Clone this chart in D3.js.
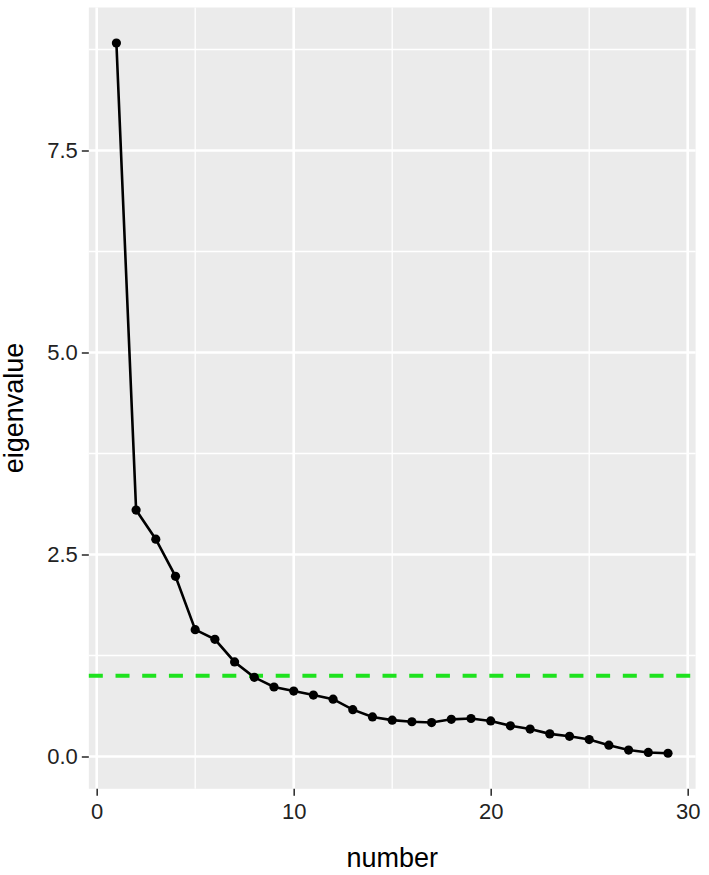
<!DOCTYPE html>
<html>
<head>
<meta charset="utf-8">
<script src="https://cdn.jsdelivr.net/npm/d3@7"></script>
<style>
	body { margin:0; background:#fff; }
	svg { display:block; font-family:"Liberation Sans", Arial, sans-serif; }
	.axis path { display:none; }
	.axis line { stroke:#333; stroke-width:1.6; }
	.axis text { fill:#222; }
</style>
</head>
<body>
<div id="viz-container"></div>
<script>
// scree plot data (component number / eigenvalue)
var numbers = [1,2,3,4,5,6,7,8,9,10,11,12,13,14,15,16,17,18,19,20,21,22,23,24,25,26,27,28,29];
var eigenvalues = [8.83,3.05,2.69,2.23,1.57,1.45,1.17,0.98,0.86,0.81,0.76,0.71,0.58,0.49,0.45,0.43,0.42,0.46,0.47,0.44,0.38,0.34,0.28,0.25,0.21,0.14,0.08,0.05,0.04];
var xTicks = [0,10,20,30];
var yTicks = [0,2.5,5,7.5];
var xMinor = [5,15,25];
var yMinor = [1.25,3.75,6.25,8.75];
var cutoff = 1;

var width = 709,
	height = 875;

var data = numbers.map(function(d, i){ return {number:d, eigenvalue:eigenvalues[i]}; });

var svg = d3.select('#viz-container')
	.append('svg')
		.attr('width', width)
		.attr('height', height);

// scales (pinned to where the ticks sit in the picture)
var xScale = d3.scaleLinear().domain([0,30]).range([96.7, 687.7]);
var yScale = d3.scaleLinear().domain([0,7.5]).range([756.5, 150.5]);

// ggplot style 5% expansion for the panel
var xExt = d3.extent(numbers), yExt = d3.extent(eigenvalues);
var xPad = (xExt[1]-xExt[0])*0.05, yPad = (yExt[1]-yExt[0])*0.05;
var panelLeft = xScale(xExt[0]-xPad), panelRight = xScale(xExt[1]+xPad),
	panelTop = yScale(yExt[1]+yPad), panelBottom = yScale(yExt[0]-yPad);

// panel
svg.append('rect')
	.attr('x', panelLeft).attr('y', panelTop)
	.attr('width', panelRight-panelLeft).attr('height', panelBottom-panelTop)
	.attr('fill', '#EBEBEB');

var grid = svg.append('g').attr('class', 'grid');

grid.selectAll('.minor-x').data(xMinor).enter().append('line')
	.attr('class', 'minor-x')
	.attr('x1', xScale).attr('x2', xScale)
	.attr('y1', panelTop).attr('y2', panelBottom)
	.attr('stroke', '#fff').attr('stroke-width', 1.3);

grid.selectAll('.minor-y').data(yMinor).enter().append('line')
	.attr('class', 'minor-y')
	.attr('y1', yScale).attr('y2', yScale)
	.attr('x1', panelLeft).attr('x2', panelRight)
	.attr('stroke', '#fff').attr('stroke-width', 1.3);

grid.selectAll('.major-x').data(xTicks).enter().append('line')
	.attr('class', 'major-x')
	.attr('x1', xScale).attr('x2', xScale)
	.attr('y1', panelTop).attr('y2', panelBottom)
	.attr('stroke', '#fff').attr('stroke-width', 2.6);

grid.selectAll('.major-y').data(yTicks).enter().append('line')
	.attr('class', 'major-y')
	.attr('y1', yScale).attr('y2', yScale)
	.attr('x1', panelLeft).attr('x2', panelRight)
	.attr('stroke', '#fff').attr('stroke-width', 2.6);

// dashed green cutoff line at eigenvalue = 1
svg.append('line')
	.attr('x1', panelLeft).attr('x2', panelRight)
	.attr('y1', yScale(cutoff)).attr('y2', yScale(cutoff))
	.attr('stroke', '#1ee21e')
	.attr('stroke-width', 4)
	.attr('stroke-dasharray', '14,12.7');

// line + points
var line = d3.line()
	.x(function(d){ return xScale(d.number); })
	.y(function(d){ return yScale(d.eigenvalue); });

svg.append('path')
	.datum(data)
	.attr('d', line)
	.attr('fill', 'none')
	.attr('stroke', '#000')
	.attr('stroke-width', 2.6);

svg.selectAll('circle')
	.data(data)
	.enter()
	.append('circle')
	.attr('cx', function(d){ return xScale(d.number); })
	.attr('cy', function(d){ return yScale(d.eigenvalue); })
	.attr('r', 4.6)
	.attr('fill', '#000');

// axes
var xAxis = d3.axisBottom(xScale).tickValues(xTicks).tickSize(7).tickPadding(8);
var yAxis = d3.axisLeft(yScale).tickValues(yTicks)
	.tickFormat(d3.format('.1f')).tickSize(7).tickPadding(4);

svg.append('g')
	.attr('class', 'x axis')
	.attr('transform', 'translate(0,' + panelBottom + ')')
	.call(xAxis)
	.selectAll('text').style('font-size', '22px');

svg.append('g')
	.attr('class', 'y axis')
	.attr('transform', 'translate(' + panelLeft + ',0)')
	.call(yAxis)
	.selectAll('text').style('font-size', '22px');

// axis titles
svg.append('text')
	.attr('x', (panelLeft+panelRight)/2)
	.attr('y', 867)
	.attr('text-anchor', 'middle')
	.style('font-size', '27px')
	.attr('fill', '#000')
	.text('number');

svg.append('text')
	.attr('transform', 'translate(23,' + 408 + ') rotate(-90)')
	.attr('text-anchor', 'middle')
	.style('font-size', '27px')
	.attr('fill', '#000')
	.text('eigenvalue');
</script>
</body>
</html>
